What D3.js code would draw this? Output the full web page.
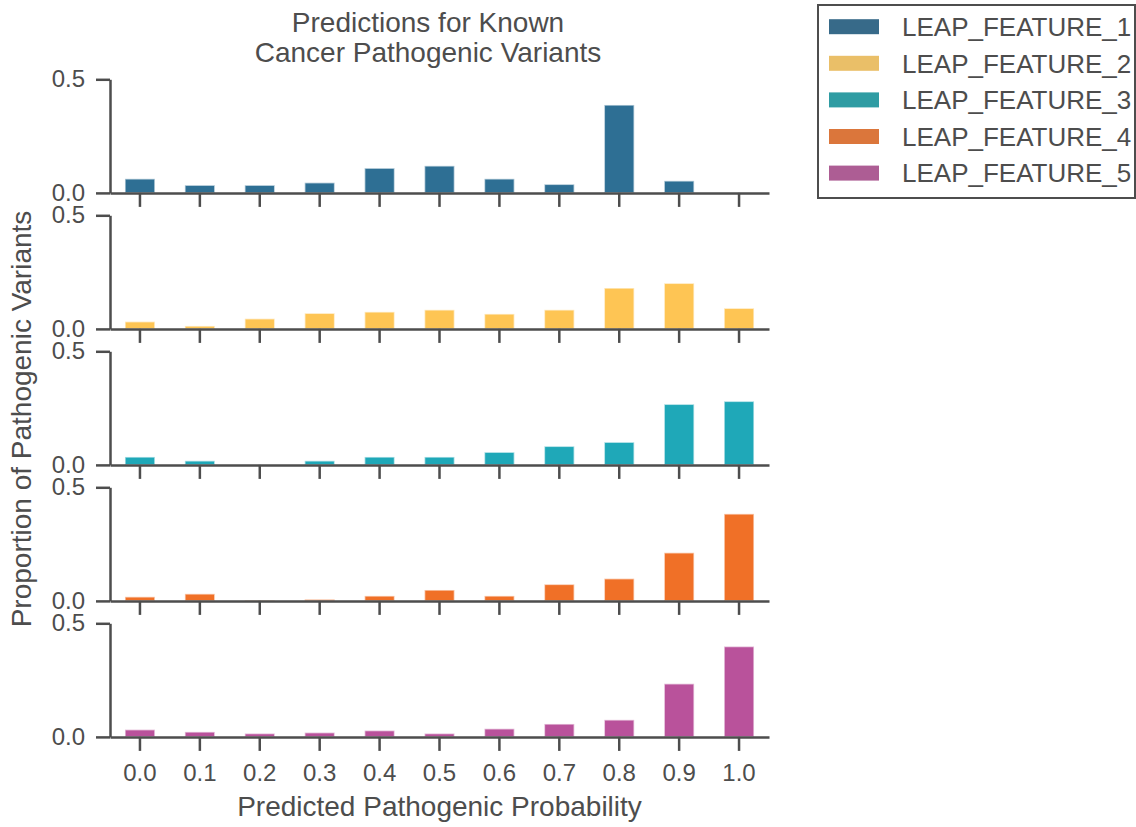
<!DOCTYPE html>
<html>
<head>
<meta charset="utf-8">
<script src="https://cdn.jsdelivr.net/npm/d3@7"></script>
<style>
  body { margin: 0; background: #fff; }
  svg text { font-family: "Liberation Sans", Arial, sans-serif; fill: #4d4d4d; }
</style>
</head>
<body>
<svg id="chart" width="1136" height="827"></svg>
<script>
// bins of predicted probability
const bins = ["0.0", "0.1", "0.2", "0.3", "0.4", "0.5", "0.6", "0.7", "0.8", "0.9", "1.0"];

// one series per feature set
const seriesNames = ["LEAP_FEATURE_1", "LEAP_FEATURE_2", "LEAP_FEATURE_3", "LEAP_FEATURE_4", "LEAP_FEATURE_5"];

const feature1 = [0.062, 0.034, 0.034, 0.045, 0.109, 0.119, 0.062, 0.038, 0.387, 0.053, 0.0];
const feature2 = [0.032, 0.013, 0.045, 0.069, 0.075, 0.084, 0.066, 0.084, 0.180, 0.201, 0.091];
const feature3 = [0.035, 0.018, 0.0, 0.018, 0.035, 0.035, 0.056, 0.082, 0.100, 0.267, 0.280];
const feature4 = [0.018, 0.031, 0.002, 0.007, 0.022, 0.048, 0.022, 0.073, 0.098, 0.212, 0.383];
const feature5 = [0.032, 0.022, 0.015, 0.019, 0.028, 0.015, 0.036, 0.057, 0.075, 0.234, 0.398];

const yTicks = [0, 0.5];

const series = [feature1, feature2, feature3, feature4, feature5];

// bar colours, and the slightly muted ones used in the legend
const barColors = ["#2e6f94", "#fec554", "#1fa8b8", "#f07027", "#b9529b"];
const legendColors = ["#376a89", "#eabf68", "#2f9ca3", "#db763b", "#ad5d94"];

const svg = d3.select("#chart");
const axisColor = "#4d4d4d";

// panel layout
const left = 110, right = 769;
const firstTop = 79.3, panelH = 113.6, panelStep = 136.0;

const x = d3.scaleBand()
    .domain(bins)
    .range([left, right])
    .paddingInner(0.5)
    .paddingOuter(0.25);

const styleAxis = g => {
    g.select(".domain").attr("stroke", axisColor).attr("stroke-width", 2.5);
    g.selectAll(".tick line").attr("stroke", axisColor).attr("stroke-width", 2.5);
    g.selectAll(".tick text").attr("fill", axisColor).style("font-size", "24px");
};

series.forEach((vals, i) => {
    const top = firstTop + i * panelStep;
    const bottom = top + panelH;

    const y = d3.scaleLinear().domain([0, 0.5]).range([bottom, top]);

    // bars
    svg.append("g")
      .selectAll("rect")
      .data(vals)
      .join("rect")
        .attr("x", (d, j) => x(bins[j]))
        .attr("y", d => y(d))
        .attr("width", x.bandwidth())
        .attr("height", d => bottom - y(d))
        .attr("fill", barColors[i])
        .attr("stroke", "#fff")
        .attr("stroke-opacity", 0.6)
        .attr("stroke-width", 1.6);

    // y axis
    svg.append("g")
        .attr("transform", `translate(${left},0)`)
        .call(d3.axisLeft(y).tickValues(yTicks).tickFormat(d3.format(".1f"))
            .tickSize(14).tickSizeOuter(0).tickPadding(11))
        .call(styleAxis);

    // x axis, labels only on the last panel
    const xAxis = d3.axisBottom(x).tickSize(14).tickSizeOuter(0).tickPadding(13);
    if (i < series.length - 1) xAxis.tickFormat("");
    svg.append("g")
        .attr("transform", `translate(0,${bottom})`)
        .call(xAxis)
        .call(styleAxis);
});

// title
svg.append("text")
    .attr("x", 428).attr("y", 31.7)
    .attr("text-anchor", "middle")
    .style("font-size", "28px")
    .text("Predictions for Known");
svg.append("text")
    .attr("x", 428).attr("y", 61.7)
    .attr("text-anchor", "middle")
    .style("font-size", "28px")
    .text("Cancer Pathogenic Variants");

// axis labels
svg.append("text")
    .attr("x", (left + right) / 2).attr("y", 816)
    .attr("text-anchor", "middle")
    .style("font-size", "28px")
    .text("Predicted Pathogenic Probability");

svg.append("text")
    .attr("transform", "translate(31,419) rotate(-90)")
    .attr("text-anchor", "middle")
    .style("font-size", "28px")
    .text("Proportion of Pathogenic Variants");

// legend
const legend = svg.append("g");
legend.append("rect")
    .attr("x", 818).attr("y", 5)
    .attr("width", 317).attr("height", 193)
    .attr("fill", "#fff")
    .attr("stroke", axisColor)
    .attr("stroke-width", 2);

const rows = legend.selectAll("g.row")
    .data(seriesNames)
    .join("g")
      .attr("class", "row")
      .attr("transform", (d, i) => `translate(0,${26.7 + i * 36.6})`);

rows.append("rect")
    .attr("x", 829).attr("y", -7.5)
    .attr("width", 50).attr("height", 15)
    .attr("fill", (d, i) => legendColors[i]);

rows.append("text")
    .attr("x", 902).attr("y", 9.3)
    .style("font-size", "26px")
    .text(d => d);
</script>
</body>
</html>
